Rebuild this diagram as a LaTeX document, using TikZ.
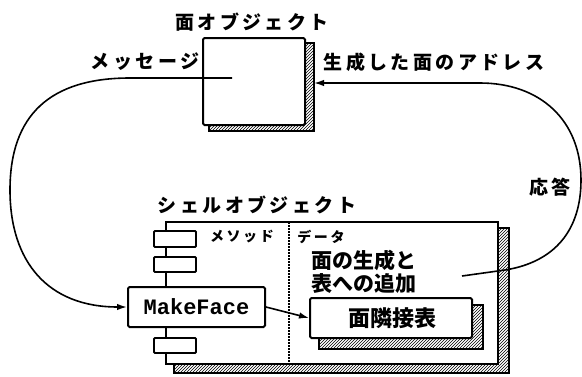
\documentclass[tikz,border=0pt]{standalone}
\usepackage{fontspec}
\newfontfamily\jp[LetterSpace=18]{Noto Sans CJK JP}
\newfontfamily\jpn{Noto Sans CJK JP}
\setmonofont{Liberation Mono}
\usetikzlibrary{patterns,backgrounds,arrows.meta,calc}
\begin{document}
\begin{tikzpicture}[x=1pt,y=-1pt,
  box/.style={draw, line width=2pt, fill=white, rounded corners=1.5pt, inner sep=0pt},
  mbox/.style={draw, line width=1.8pt, fill=white, rounded corners=1pt, inner sep=0pt, minimum width=42pt, minimum height=15pt},
  shellbox/.style={draw, line width=2pt, inner sep=0pt},
  shadowbox/.style={draw, line width=1.4pt, pattern=north east lines},
  conn/.style={line width=1.6pt},
  arr/.style={conn, -{Latex[length=10pt,width=6.5pt]}},
  lbl/.style={inner sep=0pt, font=\fontsize{19}{21}\jp\bfseries},
  small/.style={inner sep=0pt, font=\fontsize{14}{16}\jp\bfseries},
  big/.style={inner sep=0pt, font=\fontsize{21}{23}\jpn\bfseries},
  divider/.style={line width=1.6pt, dash pattern=on 1.6pt off 1.4pt}
]
\useasboundingbox (0,0) rectangle (582,376);

% main boxes
\node[box, minimum width=102pt, minimum height=87pt] (face) at (254,81.5) {};
\node[shellbox, minimum width=332pt, minimum height=142pt] (shell) at (332,293) {};
\node[mbox, minimum height=16pt] (m1) at (175,239) {};
\node[mbox] (m2) at (175,264.5) {};
\node[mbox] (m3) at (175,345.5) {};
\node[box, minimum width=137pt, minimum height=40pt, font=\fontsize{22}{24}\ttfamily\bfseries] (makeface) at (196.5,307) {MakeFace};
\node[box, minimum width=162pt, minimum height=40pt] (table) at (391,318) {};
\node[inner sep=0pt, font=\fontsize{22}{24}\jpn\bfseries] (tabletext) at (392,318) {面隣接表};

% shadows
\begin{scope}[on background layer]
  \draw[shadowbox] ($(face.north west)+(7,6)$) rectangle ($(face.south east)+(8,5)$);
  \draw[shadowbox] ($(shell.north west)+(9,7)$) rectangle ($(shell.south east)+(10,8)$);
  \fill[white] (shell.north west) rectangle (shell.south east);
  \draw[shadowbox] ($(table.north west)+(10,8)$) rectangle ($(table.south east)+(10,10)$);
\end{scope}

% divider
\coordinate (divtop) at (289,222);
\coordinate (divbot) at (289,364);
\draw[divider] (divtop) -- (divbot);

% labels
\node[lbl] (facetitle) at (252,22) {面オブジェクト};
\node[lbl] (msglabel) at (145,62) {メッセージ};
\node[lbl] (addrlabel) at (434,62) {生成した面のアドレス};
\node[lbl] (replylabel) at (550,187) {応答};
\node[lbl] (shelltitle) at (257,205) {シェルオブジェクト};
\node[small] (methodlabel) at (242,237) {メソッド};
\node[small] (datalabel) at (321,237) {データ};
\node[big, anchor=north west, align=left] (gentext) at (311,250) {面の生成と\\表への追加};

% connectors
\coordinate (msgend) at (232,78);
\draw[arr] (msgend) -- (130,78) .. controls (50,78) and (10,115) .. (10,190)
   .. controls (10,262) and (48,307) .. (makeface.west);
\coordinate (replystart) at (462,276);
\coordinate (replyend) at (314,83);
\draw[arr] (replystart) -- (505,270) .. controls (555,262) and (581,230) .. (581,180)
   .. controls (581,120) and (540,83) .. (480,83) -- (replyend);
\draw[arr] (makeface.east) -- (table.west);
\end{tikzpicture}
\end{document}
